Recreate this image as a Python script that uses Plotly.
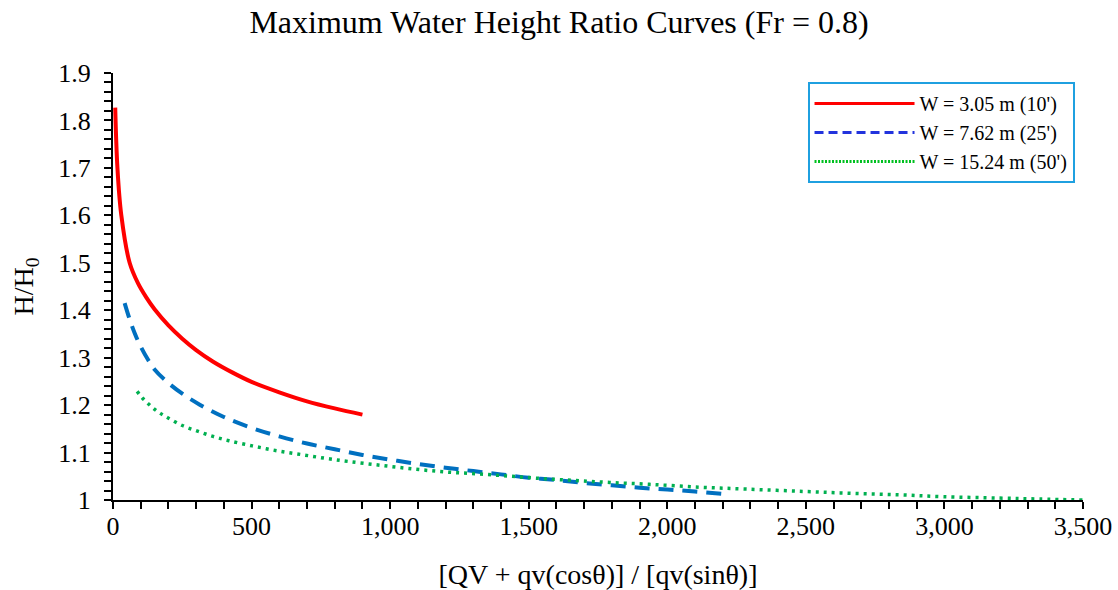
import plotly.graph_objects as go

# ---- data ----
red_x = [8, 16, 30, 60, 90, 120, 150, 200, 250, 300, 360, 430, 500, 600, 700, 800, 900]
red_y = [1.827, 1.70, 1.60, 1.50, 1.457, 1.427, 1.402, 1.368, 1.340, 1.316, 1.292, 1.269, 1.249,
         1.227, 1.208, 1.193, 1.180]

blue_x = [42, 60, 78, 96, 126, 150, 193, 250, 313, 400, 500, 600, 700, 800, 900, 1000, 1100, 1200,
          1300, 1400, 1500, 1600, 1700, 1800, 1900, 2000, 2100, 2220]
blue_y = [1.415, 1.381, 1.352, 1.328, 1.296, 1.275, 1.250, 1.224, 1.201, 1.175, 1.152, 1.134, 1.119,
          1.107, 1.095, 1.085, 1.076, 1.068, 1.061, 1.054, 1.047, 1.042, 1.036, 1.031, 1.026, 1.022,
          1.018, 1.012]

green_x = [87, 106, 127, 148, 172, 199, 250, 305, 361, 418, 503, 590, 677, 765, 852, 968, 1089, 1203,
           1317, 1438, 1552, 1672, 1792, 1936, 2117, 2285, 2496, 2670, 2839, 2995, 3199, 3344, 3500]
green_y = [1.229, 1.215, 1.203, 1.192, 1.182, 1.173, 1.157, 1.145, 1.134, 1.125, 1.114, 1.104, 1.096,
           1.088, 1.081, 1.073, 1.065, 1.059, 1.055, 1.050, 1.045, 1.041, 1.037, 1.033, 1.027, 1.023,
           1.018, 1.014, 1.011, 1.007, 1.004, 1.002, 1.000]

series_names = ["W = 3.05 m (10')", "W = 7.62 m (25')", "W = 15.24 m (50')"]

x_ticks = [0, 500, 1000, 1500, 2000, 2500, 3000, 3500]
y_ticks = [1, 1.1, 1.2, 1.3, 1.4, 1.5, 1.6, 1.7, 1.8, 1.9]

FONT = "Liberation Serif"

fig = go.Figure()

# curves (not in legend)
fig.add_trace(go.Scatter(x=red_x, y=red_y, mode="lines", showlegend=False,
                         line=dict(color="#FF0000", width=4, shape="spline", smoothing=1.0)))
fig.add_trace(go.Scatter(x=blue_x, y=blue_y, mode="lines", showlegend=False,
                         line=dict(color="#0070C0", width=4, dash="15px,9px", shape="spline", smoothing=1.0)))
fig.add_trace(go.Scatter(x=green_x, y=green_y, mode="lines", showlegend=False,
                         line=dict(color="#00B050", width=3.5, dash="3px,5px", shape="spline", smoothing=1.0)))

# legend entries
fig.add_trace(go.Scatter(x=[None], y=[None], mode="lines", name=series_names[0],
                         line=dict(color="#FF0000", width=3)))
fig.add_trace(go.Scatter(x=[None], y=[None], mode="lines", name=series_names[1],
                         line=dict(color="#2233DD", width=3, dash="9px,5px")))
fig.add_trace(go.Scatter(x=[None], y=[None], mode="lines", name=series_names[2],
                         line=dict(color="#00C020", width=3, dash="2px,1.5px")))

axis_common = dict(showgrid=False, zeroline=False, showline=True, linecolor="black", linewidth=2,
                   ticks="outside", tickcolor="black", tickwidth=2, ticklen=7, automargin=False,
                   tickfont=dict(family=FONT, size=26, color="black"))

fig.update_layout(
    width=1118, height=590,
    margin=dict(l=113, r=35, t=73, b=90),
    paper_bgcolor="white", plot_bgcolor="white",
    title=dict(text="Maximum Water Height Ratio Curves (Fr = 0.8)", x=0.5, xanchor="center",
               y=0.963, yanchor="middle", font=dict(family=FONT, size=32, color="black")),
    xaxis=dict(range=[0, 3500], tickvals=x_ticks, tickformat=",d", ticklabelstandoff=-5,
               minor=dict(dtick=100, ticks="outside", ticklen=7, tickwidth=1.5, tickcolor="black", showgrid=False),
               title=dict(text="[QV + qv(cosθ)] / [qv(sinθ)]", font=dict(family=FONT, size=28, color="black"),
                          standoff=24),
               **axis_common),
    yaxis=dict(range=[1, 1.9], tickvals=y_ticks, ticklabelstandoff=8,
               minor=dict(dtick=0.02, ticks="outside", ticklen=7, tickwidth=1.5, tickcolor="black", showgrid=False),
               title=dict(text="H/H<sub>0</sub>", font=dict(family=FONT, size=28, color="black"), standoff=16),
               **axis_common),
    xaxis2=dict(overlaying="x", anchor="y", side="bottom", range=[0, 3500], tickvals=x_ticks,
                showticklabels=False, showgrid=False, zeroline=False, showline=False, automargin=False,
                ticks="inside", ticklen=7, tickwidth=2, tickcolor="black"),
    yaxis2=dict(overlaying="y", anchor="x", side="left", range=[1, 1.9], tickvals=y_ticks,
                showticklabels=False, showgrid=False, zeroline=False, showline=False, automargin=False,
                ticks="inside", ticklen=7, tickwidth=2, tickcolor="black"),
    legend=dict(x=0.716, y=0.979, xanchor="left", yanchor="top", bgcolor="white",
                bordercolor="#1FA0E0", borderwidth=2, itemwidth=100,
                font=dict(family=FONT, size=20, color="black")),
)

fig.write_html("out.html")
